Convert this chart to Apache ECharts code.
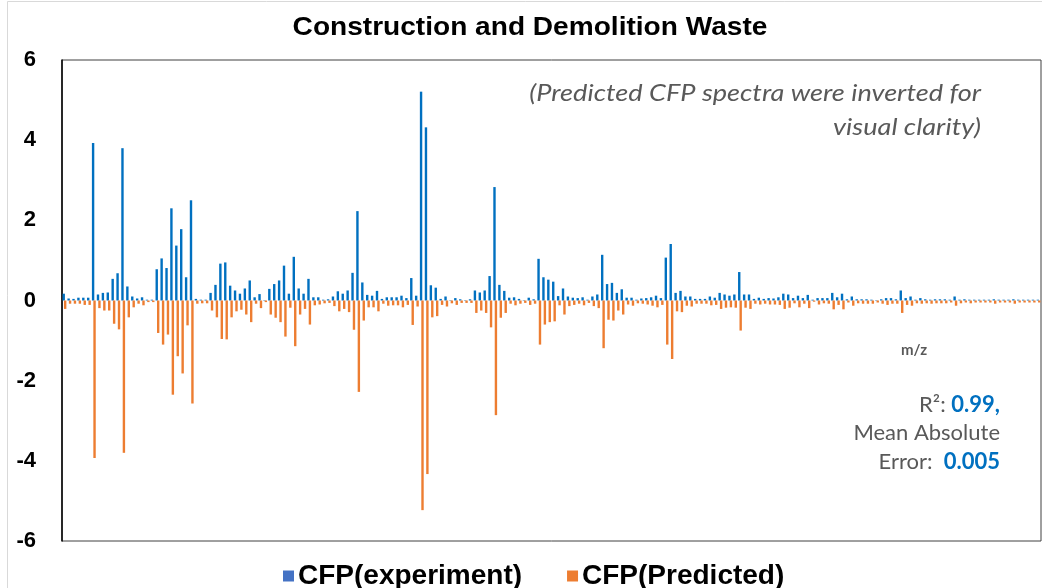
<!DOCTYPE html>
<html>
<head>
<meta charset="utf-8">
<title>Construction and Demolition Waste</title>
<script src="https://cdn.jsdelivr.net/npm/echarts@6/dist/echarts.min.js"></script>
<style>
  html, body { margin: 0; padding: 0; background: #ffffff; }
  #chart { width: 1042px; height: 588px; }
</style>
</head>
<body>
<div id="chart"></div>
<script>
// CFP intensities per m/z channel (200 channels)
const experiment = [
  0.17,0.05,0.04,0.07,0.07,0.07,3.93,0.15,0.19,0.20,
  0.54,0.68,3.80,0.35,0.10,0.05,0.08,0.02,0.02,0.78,
  1.05,0.81,2.30,1.37,1.78,0.58,2.50,0.04,0.02,0.02,
  0.19,0.39,0.92,0.95,0.37,0.25,0.17,0.30,0.50,0.08,
  0.16,0.01,0.29,0.41,0.50,0.87,0.17,1.09,0.30,0.17,
  0.54,0.08,0.08,0.02,0.03,0.10,0.23,0.17,0.25,0.69,
  2.23,0.45,0.14,0.12,0.24,0.04,0.08,0.08,0.08,0.12,
  0.06,0.56,0.12,5.21,4.32,0.38,0.32,0.04,0.10,0.01,
  0.06,0.03,0.01,0.03,0.25,0.20,0.25,0.61,2.83,0.39,
  0.24,0.07,0.08,0.04,0.01,0.07,0.03,1.04,0.58,0.52,
  0.47,0.11,0.30,0.10,0.07,0.06,0.08,0.02,0.10,0.15,
  1.14,0.41,0.44,0.19,0.28,0.07,0.07,0.02,0.05,0.06,
  0.08,0.12,0.06,1.07,1.41,0.19,0.24,0.10,0.10,0.04,
  0.04,0.04,0.10,0.07,0.19,0.15,0.12,0.15,0.71,0.15,
  0.15,0.04,0.07,0.04,0.06,0.05,0.08,0.17,0.15,0.06,
  0.12,0.06,0.14,0.02,0.06,0.06,0.06,0.19,0.08,0.17,
  0.03,0.10,0.03,0.03,0.03,0.02,0.01,0.03,0.06,0.06,
  0.03,0.25,0.06,0.10,0.02,0.06,0.03,0.02,0.03,0.03,
  0.03,0.02,0.10,0.02,0.03,0.02,0.02,0.02,0.02,0.02,
  0.03,0.02,0.02,0.02,0.03,0.02,0.02,0.02,0.02,0.02
];

// Predicted intensities (positive); plotted downward
const predicted = [
  0.21,0.08,0.08,0.08,0.11,0.11,3.93,0.19,0.25,0.25,
  0.58,0.72,3.80,0.42,0.17,0.08,0.12,0.04,0.04,0.81,
  1.10,0.85,2.35,1.39,1.82,0.62,2.57,0.08,0.07,0.07,
  0.25,0.42,0.96,0.97,0.42,0.27,0.23,0.35,0.54,0.08,
  0.19,0.04,0.35,0.43,0.54,0.90,0.18,1.14,0.35,0.21,
  0.60,0.12,0.10,0.07,0.06,0.14,0.27,0.21,0.29,0.73,
  2.28,0.50,0.17,0.17,0.27,0.08,0.13,0.12,0.12,0.17,
  0.11,0.61,0.15,5.23,4.33,0.42,0.39,0.11,0.15,0.07,
  0.11,0.06,0.06,0.06,0.31,0.25,0.31,0.67,2.86,0.43,
  0.31,0.08,0.12,0.08,0.06,0.11,0.08,1.10,0.60,0.54,
  0.52,0.12,0.35,0.14,0.11,0.08,0.12,0.06,0.14,0.19,
  1.19,0.48,0.50,0.25,0.35,0.10,0.13,0.07,0.08,0.10,
  0.13,0.17,0.11,1.10,1.46,0.27,0.29,0.13,0.15,0.08,
  0.08,0.08,0.12,0.11,0.21,0.18,0.17,0.18,0.75,0.18,
  0.21,0.08,0.10,0.08,0.10,0.10,0.11,0.21,0.18,0.07,
  0.17,0.08,0.19,0.03,0.10,0.07,0.08,0.22,0.11,0.22,
  0.05,0.13,0.07,0.08,0.08,0.08,0.05,0.08,0.11,0.08,
  0.08,0.31,0.11,0.13,0.07,0.08,0.07,0.08,0.07,0.07,
  0.07,0.05,0.13,0.07,0.05,0.07,0.05,0.05,0.05,0.05,
  0.08,0.05,0.05,0.05,0.08,0.05,0.05,0.05,0.05,0.05
];

// m/z channel indices along the horizontal axis
const categories = experiment.map((_, i) => String(i + 1));

const seriesNames = ['CFP(experiment)', 'CFP(Predicted)'];
const yTicks = { min: -6, max: 6, interval: 2 };

const BLUE = '#0070C0';
const ORANGE = '#ED7D31';
const GRAY = '#595959';
const SANS = '"Liberation Sans", Arial, sans-serif';
const SOFT = 'Lato, "Open Sans", sans-serif';

const chart = echarts.init(document.getElementById('chart'), null, { renderer: 'canvas' });

chart.setOption({
  animation: false,
  backgroundColor: '#ffffff',
  grid: {
    left: 62, right: 1, top: 60, bottom: 47,
    show: true, borderColor: '#404040', borderWidth: 1,
    containLabel: false
  },
  legend: {
    left: 283, top: 562, padding: 0,
    itemWidth: 11, itemHeight: 11, itemGap: 45,
    icon: 'rect',
    textStyle: { fontFamily: SANS, fontWeight: 'bold', fontSize: 28, color: '#000', padding: [0, 0, 0, -1] },
    data: [
      { name: seriesNames[0], itemStyle: { color: '#4472C4' } },
      { name: seriesNames[1], itemStyle: { color: ORANGE } }
    ]
  },
  xAxis: {
    type: 'category',
    data: categories,
    boundaryGap: true,
    axisLine: { show: false },
    axisTick: { show: false },
    axisLabel: { show: false },
    splitLine: { show: false }
  },
  yAxis: {
    type: 'value',
    min: yTicks.min, max: yTicks.max, interval: yTicks.interval,
    axisLine: { show: true, lineStyle: { color: '#000', width: 1.5 } },
    axisTick: { show: false },
    splitLine: { show: false },
    axisLabel: {
      fontFamily: SANS, fontWeight: 'bold', fontSize: 22, color: '#000', margin: 26
    }
  },
  series: [
    {
      name: seriesNames[0], type: 'bar',
      data: experiment,
      barWidth: 2.4, barGap: '-40%',
      itemStyle: { color: BLUE }
    },
    {
      name: seriesNames[1], type: 'bar',
      // inverted so the predicted spectrum mirrors the measured one
      data: predicted.map(v => -v),
      barWidth: 2.4, barGap: '-40%',
      itemStyle: { color: ORANGE }
    }
  ],
  graphic: [
    {
      type: 'rect', silent: true, z: -1,
      shape: { x: 7.5, y: 1.5, width: 1040, height: 590 },
      style: { fill: null, stroke: '#d9d9d9', lineWidth: 1 }
    },
    {
      type: 'text', x: 530, y: 28, scaleX: 1.08,
      style: {
        text: 'Construction and Demolition Waste',
        font: 'bold 26px ' + SANS, fill: '#000',
        textAlign: 'center', textVerticalAlign: 'middle'
      }
    },
    {
      type: 'text', x: 981, y: 93, scaleX: 1.13,
      style: {
        text: '(Predicted CFP spectra were inverted for',
        font: 'italic 24px ' + SOFT, fill: GRAY,
        textAlign: 'right', textVerticalAlign: 'middle'
      }
    },
    {
      type: 'text', x: 981, y: 127, scaleX: 1.13,
      style: {
        text: 'visual clarity)',
        font: 'italic 24px ' + SOFT, fill: GRAY,
        textAlign: 'right', textVerticalAlign: 'middle'
      }
    },
    {
      type: 'text', x: 914, y: 350,
      style: {
        text: 'm/z',
        font: 'bold 15px ' + SOFT, fill: GRAY,
        textAlign: 'center', textVerticalAlign: 'middle'
      }
    },
    {
      type: 'text', x: 1000, y: 405,
      style: {
        text: 'R²: {v|0.99,}',
        font: '22px ' + SOFT, fill: GRAY,
        textAlign: 'right', textVerticalAlign: 'middle',
        rich: { v: { fontFamily: SOFT, fontSize: 22, fontWeight: 'bold', fill: BLUE } }
      }
    },
    {
      type: 'text', x: 1000, y: 433,
      style: {
        text: 'Mean Absolute',
        font: '22px ' + SOFT, fill: GRAY,
        textAlign: 'right', textVerticalAlign: 'middle'
      }
    },
    {
      type: 'text', x: 1000, y: 462,
      style: {
        text: 'Error:  {v|0.005}',
        font: '22px ' + SOFT, fill: GRAY,
        textAlign: 'right', textVerticalAlign: 'middle',
        rich: { v: { fontFamily: SOFT, fontSize: 22, fontWeight: 'bold', fill: BLUE } }
      }
    }
  ]
});
</script>
</body>
</html>
